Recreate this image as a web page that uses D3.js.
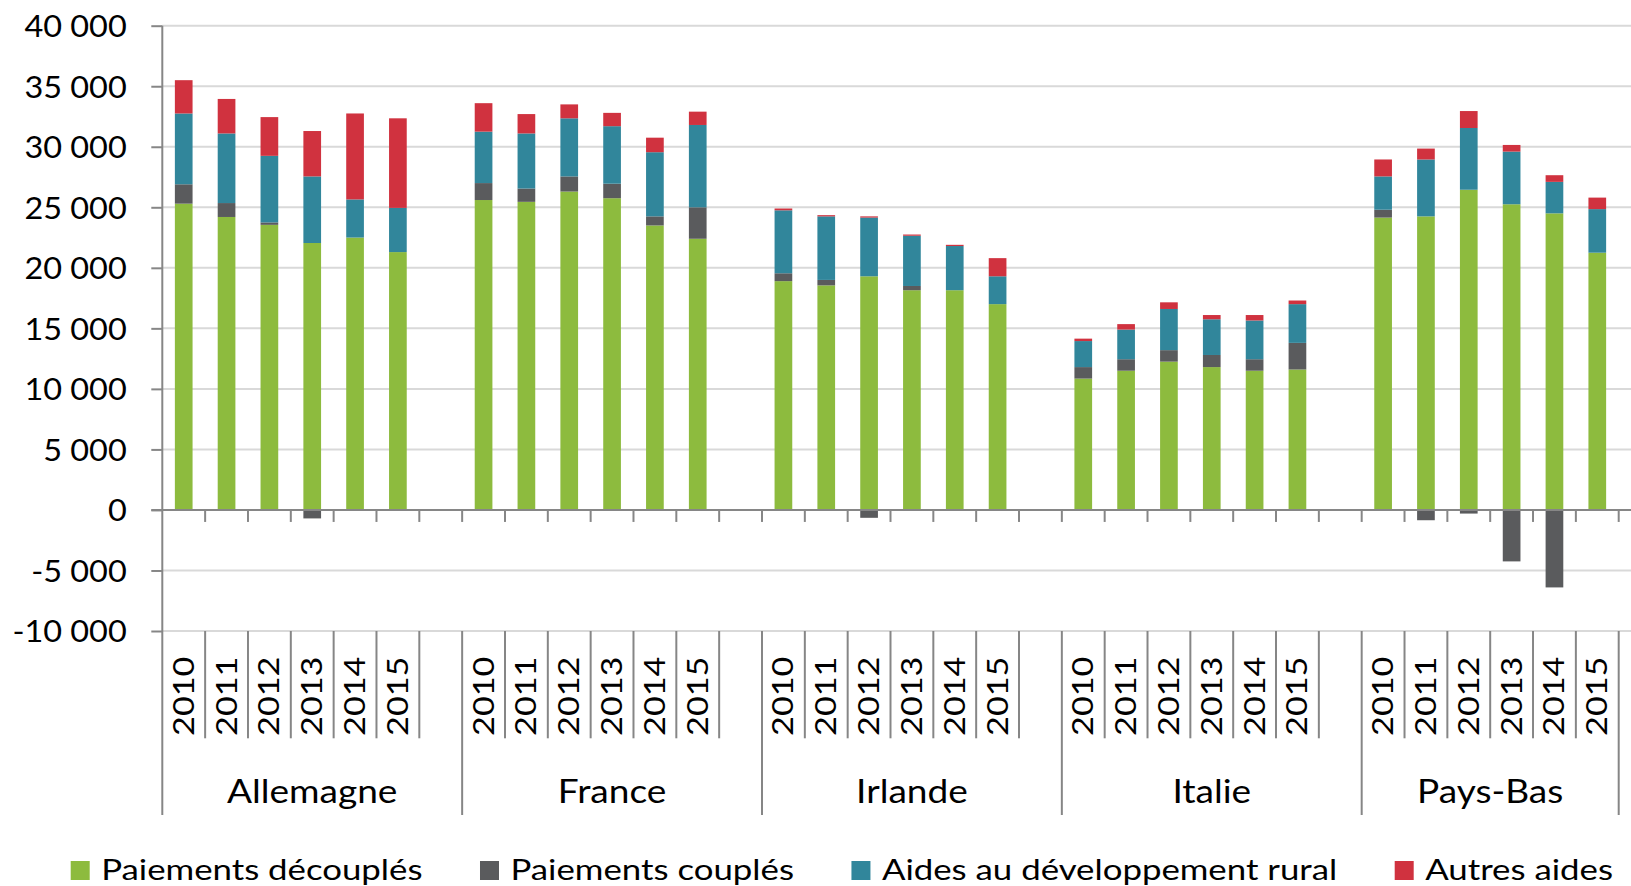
<!DOCTYPE html>
<html><head><meta charset="utf-8">
<script src="https://cdn.jsdelivr.net/npm/d3@7"></script>
<style>
body{margin:0;background:#fff}
svg{display:block}
text{font-family:Lato, "Open Sans", sans-serif;fill:#000}
</style>
</head><body>
<svg id="chart" width="1631" height="886"></svg>
<script>
// ---------------- data ----------------
const countries = ["Allemagne", "France", "Irlande", "Italie", "Pays-Bas"];
const years = ["2010", "2011", "2012", "2013", "2014", "2015"];
const seriesKeys = ["dec", "coup", "rural", "autres"];
const seriesNames = ["Paiements découplés", "Paiements couplés", "Aides au développement rural", "Autres aides"];
const seriesColors = ["#8dbb3e", "#5a5b5d", "#31869b", "#d0323f"];

// values per country (rows) and year (columns)
const paiementsDecouples = [
  [25300, 24200, 23550, 22050, 22500, 21300],
  [25600, 25450, 26300, 25750, 23500, 22400],
  [18900, 18550, 19300, 18150, 18150, 17000],
  [10850, 11500, 12250, 11800, 11500, 11600],
  [24150, 24250, 26450, 25250, 24500, 21250]
];
const paiementsCouples = [
  [1600, 1150, 200, -700, 0, 0],
  [1400, 1100, 1250, 1200, 750, 2600],
  [650, 450, -650, 350, 0, 0],
  [950, 950, 950, 1000, 950, 2200],
  [650, -850, -300, -4250, -6400, 0]
];
const aidesRural = [
  [5850, 5750, 5500, 5500, 3150, 3650],
  [4250, 4550, 4800, 4750, 5300, 6800],
  [5200, 5250, 4850, 4150, 3650, 2300],
  [2150, 2450, 3400, 2950, 3200, 3200],
  [2750, 4700, 5100, 4350, 2600, 3600]
];
const autresAides = [
  [2750, 2850, 3200, 3750, 7100, 7400],
  [2350, 1600, 1150, 1100, 1200, 1100],
  [150, 100, 100, 100, 100, 1500],
  [200, 450, 550, 350, 450, 300],
  [1400, 900, 1400, 550, 550, 950]
];
const yTicks = [-10000, -5000, 0, 5000, 10000, 15000, 20000, 25000, 30000, 35000, 40000];

// ---------------- layout ----------------
const W = 1631, H = 886;
const X0 = 162.3, X1 = 1618.7;
const Y_TOP = 25.7, Y_BOT = 631;
const YEAR_LINE_BOTTOM = 738.3, GROUP_LINE_BOTTOM = 815;
const AXIS_COLOR = "#868686", GRID_COLOR = "#d9d9d9";
const BAR_RATIO = 0.413;

// rows and slots (6 years + 1 blank between countries)
const rows = [];
const slots = [];
countries.forEach((c, ci) => {
  years.forEach((yr, yi) => {
    const key = c + "|" + yr;
    slots.push(key);
    rows.push({
      key, country: c, year: yr,
      dec: paiementsDecouples[ci][yi],
      coup: paiementsCouples[ci][yi],
      rural: aidesRural[ci][yi],
      autres: autresAides[ci][yi]
    });
  });
  if (ci < countries.length - 1) slots.push(c + "|blank");
});

const pInner = 1 - BAR_RATIO;
const x = d3.scaleBand().domain(slots).range([X0, X1])
  .paddingInner(pInner).paddingOuter(pInner / 2);
const step = x.step();
const slotStart = k => x(k) - step * pInner / 2;
const slotCenter = k => x(k) + x.bandwidth() / 2;

const y = d3.scaleLinear().domain([-10000, 40000]).range([Y_BOT, Y_TOP]);

const locale = d3.formatLocale({decimal: ",", thousands: "\u00a0", grouping: [3], currency: ["", "€"], minus: "-"});
const fmt = locale.format(",d");

const svg = d3.select("#chart");

// gridlines
svg.append("g").selectAll("line").data(yTicks.filter(t => t !== 0)).join("line")
  .attr("x1", X0).attr("x2", W)
  .attr("y1", d => y(d)).attr("y2", d => y(d))
  .attr("stroke", GRID_COLOR).attr("stroke-width", 2);

// bars
const stacked = d3.stack().keys(seriesKeys).offset(d3.stackOffsetDiverging)(rows);
svg.append("g").selectAll("g").data(stacked).join("g")
  .attr("fill", (d, i) => seriesColors[i])
  .selectAll("rect").data(d => d.filter(p => p[1] !== p[0])).join("rect")
  .attr("x", d => x(d.data.key))
  .attr("width", x.bandwidth())
  .attr("y", d => y(Math.max(d[0], d[1])))
  .attr("height", d => Math.abs(y(d[0]) - y(d[1])));

// y axis
const TXT_Y_SX = 1.08;
const yAxis = svg.append("g").attr("transform", `translate(${X0},0)`)
  .call(d3.axisLeft(y).tickValues(yTicks).tickSize(11).tickFormat(fmt));
yAxis.select(".domain").remove();
yAxis.selectAll(".tick line").attr("stroke", AXIS_COLOR).attr("stroke-width", 2);
yAxis.selectAll(".tick text")
  .attr("x", null).attr("dy", "0.36em")
  .attr("transform", `translate(${126.7 - X0},0) scale(${TXT_Y_SX},1)`)
  .attr("text-anchor", "end")
  .style("font-size", "30px").style("font-family", "Lato").attr("fill", "#000");

// vertical axis line (extends into the category label area)
svg.append("line").attr("x1", X0).attr("x2", X0).attr("y1", Y_TOP).attr("y2", GROUP_LINE_BOTTOM)
  .attr("stroke", AXIS_COLOR).attr("stroke-width", 2);

// zero line
svg.append("line").attr("x1", X0 - 11).attr("x2", W).attr("y1", y(0)).attr("y2", y(0))
  .attr("stroke", AXIS_COLOR).attr("stroke-width", 2);

// tick marks below the zero line at every slot boundary
const boundaries = slots.map(k => slotStart(k) + step).filter(v => v <= X1 + 0.5);
svg.append("g").selectAll("line").data(boundaries).join("line")
  .attr("x1", d => d).attr("x2", d => d)
  .attr("y1", y(0)).attr("y2", y(0) + 12)
  .attr("stroke", AXIS_COLOR).attr("stroke-width", 2);

// category label area: year separators and group borders
const groupInfo = countries.map((c, ci) => {
  const first = c + "|" + years[0];
  const last = c + "|" + years[years.length - 1];
  const start = slotStart(first);
  const end = ci < countries.length - 1 ? slotStart(countries[ci + 1] + "|" + years[0]) : slotStart(last) + step;
  return {c, start, end, last};
});
const yearSeps = [];
rows.forEach(r => {
  const isLastYear = r.year === years[years.length - 1];
  const isLastCountry = r.country === countries[countries.length - 1];
  if (!(isLastYear && isLastCountry)) yearSeps.push(slotStart(r.key) + step);
});
svg.append("g").selectAll("line").data(yearSeps).join("line")
  .attr("x1", d => d).attr("x2", d => d)
  .attr("y1", Y_BOT).attr("y2", YEAR_LINE_BOTTOM)
  .attr("stroke", AXIS_COLOR).attr("stroke-width", 2);
const groupBorders = groupInfo.map(g => g.start).slice(1).concat([groupInfo[groupInfo.length - 1].end]);
svg.append("g").selectAll("line").data(groupBorders).join("line")
  .attr("x1", d => d).attr("x2", d => d)
  .attr("y1", Y_BOT).attr("y2", GROUP_LINE_BOTTOM)
  .attr("stroke", AXIS_COLOR).attr("stroke-width", 2);

// year labels (rotated)
const YEAR_FS = 28, YEAR_SX = 1.22;
svg.append("g").selectAll("text").data(rows).join("text")
  .attr("transform", d => `translate(${slotCenter(d.key) + YEAR_FS * 0.358},656.7) rotate(-90) scale(${YEAR_SX},1)`)
  .attr("text-anchor", "end")
  .style("font-size", YEAR_FS + "px")
  .text(d => d.year);

// group labels
const GROUP_FS = 32.5, GROUP_SX = 1.14;
svg.append("g").selectAll("text").data(groupInfo).join("text")
  .attr("transform", d => `translate(${(d.start + d.end) / 2},802.7) scale(${GROUP_SX},1)`)
  .attr("text-anchor", "middle")
  .style("font-size", GROUP_FS + "px")
  .text(d => d.c);

// legend
const LEG_FS = 29, LEG_SX = 1.2, LEG_BOX = 19, LEG_TOP = 861, LEG_BASE = 880;
let lx = 70.7;
const leg = svg.append("g");
seriesNames.forEach((name, i) => {
  leg.append("rect").attr("x", lx).attr("y", LEG_TOP).attr("width", LEG_BOX).attr("height", LEG_BOX)
    .attr("fill", seriesColors[i]);
  const tx = lx + LEG_BOX + 11.5;
  const t = leg.append("text")
    .attr("transform", `translate(${tx},${LEG_BASE}) scale(${LEG_SX},1)`)
    .style("font-size", LEG_FS + "px")
    .text(name);
  const w = t.node().getComputedTextLength() * LEG_SX;
  lx = tx + w + 57.5;
});
</script>
</body></html>
